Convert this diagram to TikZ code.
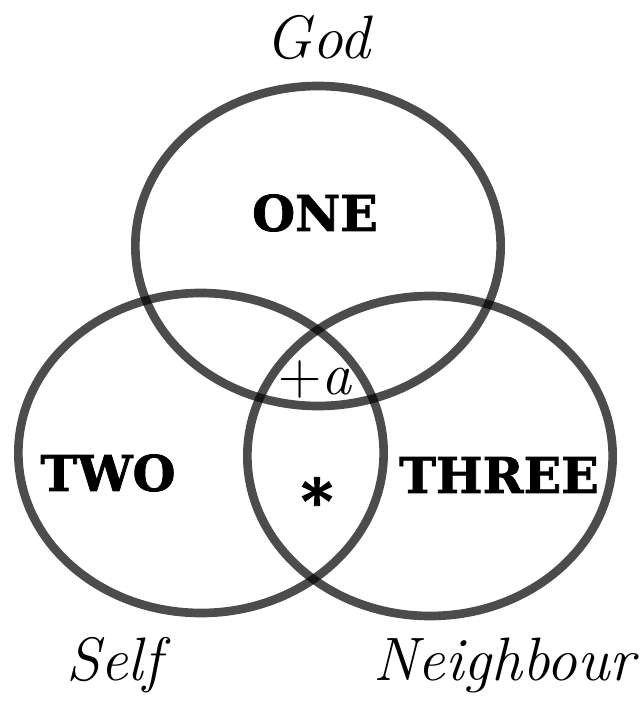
\documentclass[tikz,border=0pt]{standalone}
\usepackage{fontspec}
\newfontfamily\slabfont{DejaVu Serif}[BoldFeatures={FakeBold=1.5}]
\usetikzlibrary{positioning, shapes.geometric}

\begin{document}
\begin{tikzpicture}[
    x=0.75pt, y=-0.75pt,
    ring/.style={ellipse, draw=black, draw opacity=0.7, line width=6.5pt, minimum width=274pt, minimum height=240pt, inner sep=0pt},
    who/.style={font=\fontsize{46}{50}\selectfont\itshape, inner sep=0pt},
    part/.style={font=\fontsize{37}{42}\selectfont\slabfont\bfseries, inner sep=0pt},
    sign/.style={font=\fontsize{45}{50}\selectfont, inner sep=0pt}
]
\useasboundingbox (0,0) rectangle (641,702);
\node[ring] (god) at (318,246) {};
\node[ring] (self) at (201,453) {};
\node[ring] (neighbour) at (430,456) {};

\node[who] (godname) at (318,38) {God};
\node[who] (selfname) at (114,665) {Self};
\node[who] (neighbourname) at (504,665) {Neighbour};

\node[part] (one) at (315,213) {ONE};
\node[part] (two) at (108,473) {TWO};
\node[part] (three) at (499,475) {THREE};

\node[sign] (plusa) at (315,380) {+\textit{a}};
\node[sign, font=\fontsize{46}{50}\selectfont\slabfont\bfseries] (star) at (317,500) {*};
\end{tikzpicture}
\end{document}
